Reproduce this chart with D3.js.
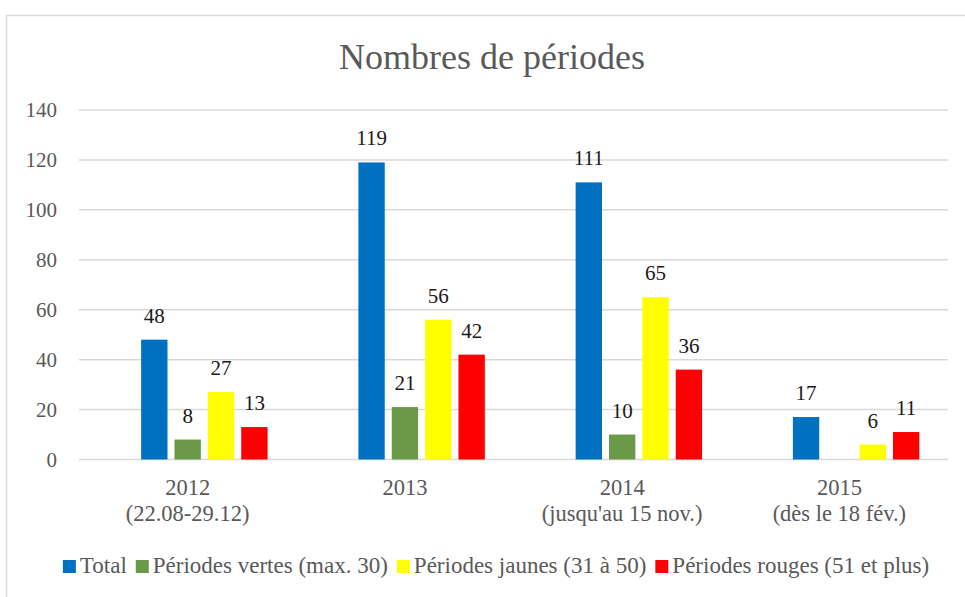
<!DOCTYPE html>
<html>
<head>
<meta charset="utf-8">
<script src="https://cdn.jsdelivr.net/npm/d3@7"></script>
</head>
<body style="margin:0">
<svg id="chart" width="965" height="597"></svg>
<script>
// data
const categories = ["2012", "2013", "2014", "2015"];
const subLabels = ["(22.08-29.12)", "", "(jusqu'au 15 nov.)", "(dès le 18 fév.)"];
const seriesNames = ["Total", "Périodes vertes (max. 30)", "Périodes jaunes (31 à 50)", "Périodes rouges (51 et plus)"];
const seriesColors = ["#0070C0", "#6A9A48", "#FFFF00", "#FF0000"];
const total = [48, 119, 111, 17];
const vertes = [8, 21, 10, null];
const jaunes = [27, 56, 65, 6];
const rouges = [13, 42, 36, 11];
const yTicks = [0, 20, 40, 60, 80, 100, 120, 140];

const seriesValues = [total, vertes, jaunes, rouges];

const font = '"Liberation Serif"';
const svg = d3.select("#chart");
const grey = "#595959";

// chart border
svg.append("rect")
   .attr("x", 6.5).attr("y", 15.5)
   .attr("width", 990).attr("height", 600)
   .attr("fill", "none")
   .attr("stroke", "#d9d9d9")
   .attr("stroke-width", 1.5);

svg.append("text")
   .attr("x", 492).attr("y", 69)
   .attr("text-anchor", "middle")
   .style("font-family", font)
   .style("font-size", "36px")
   .style("fill", grey)
   .text("Nombres de périodes");

const plotLeft = 79, plotRight = 948, plotTop = 110, plotBottom = 459.5;

const x0 = d3.scaleBand().domain(categories).range([plotLeft, plotRight]);
const bw = x0.bandwidth();
const x1 = d3.scaleBand()
   .domain(seriesNames)
   .range([bw * 0.286, bw * 0.868])
   .paddingInner(0.21);
const y = d3.scaleLinear().domain([0, 140]).range([plotBottom, plotTop]);

// grid lines
svg.append("g")
   .selectAll("line")
   .data(yTicks)
   .enter()
   .append("line")
   .attr("x1", plotLeft).attr("x2", plotRight)
   .attr("y1", d => y(d)).attr("y2", d => y(d))
   .attr("stroke", "#d9d9d9")
   .attr("stroke-width", 1.5);

// y axis labels
const yAxis = svg.append("g")
   .attr("transform", `translate(${plotLeft - 22},0)`)
   .call(d3.axisLeft(y).tickValues(yTicks).tickSize(0).tickPadding(0));
yAxis.attr("font-family", null).attr("font-size", null);
yAxis.select(".domain").remove();
yAxis.selectAll("text")
   .style("font-size", "21px")
   .style("font-family", font)
   .style("fill", grey);

// bars
const rows = [];
seriesNames.forEach((s, i) => {
  categories.forEach((c, j) => {
    rows.push({cat: c, name: s, color: seriesColors[i], value: seriesValues[i][j]});
  });
});
const shown = rows.filter(d => d.value != null);

svg.append("g")
   .selectAll("rect")
   .data(shown)
   .enter()
   .append("rect")
   .attr("x", d => x0(d.cat) + x1(d.name))
   .attr("y", d => y(d.value))
   .attr("width", x1.bandwidth())
   .attr("height", d => y(0) - y(d.value))
   .attr("fill", d => d.color);

svg.append("g")
   .selectAll("text")
   .data(shown)
   .enter()
   .append("text")
   .attr("x", d => x0(d.cat) + x1(d.name) + x1.bandwidth() / 2)
   .attr("y", d => y(d.value) - 17)
   .attr("text-anchor", "middle")
   .style("font-family", font)
   .style("font-size", "21px")
   .style("fill", "#1a1a1a")
   .text(d => d.value);

// category labels
const catG = svg.append("g")
   .selectAll("text")
   .data(categories)
   .enter()
   .append("text")
   .attr("text-anchor", "middle")
   .style("font-family", font)
   .style("font-size", "22.5px")
   .style("fill", grey);
catG.append("tspan")
   .attr("x", d => x0(d) + bw / 2)
   .attr("y", 495)
   .text(d => d);
catG.append("tspan")
   .attr("x", d => x0(d) + bw / 2)
   .attr("y", 521)
   .text((d, i) => subLabels[i]);

// legend
const legend = svg.append("g");
const items = legend.selectAll("g")
   .data(seriesNames)
   .enter()
   .append("g");
items.append("rect")
   .attr("width", 13).attr("height", 13)
   .attr("y", -13)
   .attr("fill", (d, i) => seriesColors[i]);
items.append("text")
   .attr("x", 17)
   .attr("y", 0)
   .style("font-family", font)
   .style("font-size", "23px")
   .style("fill", grey)
   .text(d => d);

let pos = 0;
items.each(function() {
  const w = d3.select(this).select("text").node().getComputedTextLength();
  d3.select(this).attr("transform", `translate(${pos},0)`);
  pos += 17 + w + 9;
});
pos -= 9;
legend.attr("transform", `translate(${496 - pos / 2},573)`);
</script>
</body>
</html>
